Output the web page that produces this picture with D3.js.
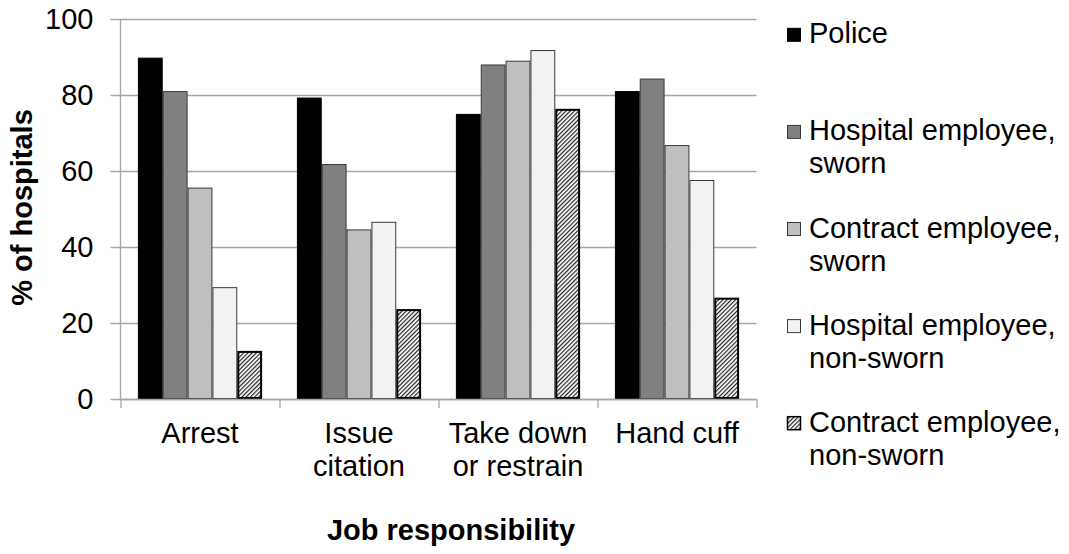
<!DOCTYPE html>
<html>
<head>
<meta charset="utf-8">
<script src="https://cdn.jsdelivr.net/npm/d3@7"></script>
<style>
  html, body { margin: 0; padding: 0; background: #fff; }
  svg { display: block; font-family: "Liberation Sans", Arial, sans-serif; }
</style>
</head>
<body>
<svg id="chart" width="1069" height="554"></svg>
<script>
// Job responsibilities by who performs them (% of hospitals)
const categories = ["Arrest", "Issue\ncitation", "Take down\nor restrain", "Hand cuff"];
const seriesNames = [
  "Police",
  "Hospital employee,\nsworn",
  "Contract employee,\nsworn",
  "Hospital employee,\nnon-sworn",
  "Contract employee,\nnon-sworn"
];
const police            = [89.7, 79.2, 74.9, 80.9];
const hospitalSworn     = [80.9, 61.7, 87.9, 84.2];
const contractSworn     = [55.5, 44.5, 88.9, 66.7];
const hospitalNonSworn  = [29.3, 46.5, 91.7, 57.5];
const contractNonSworn  = [12.4, 23.4, 76.1, 26.4];
const yTicks = [0, 20, 40, 60, 80, 100];
const yTitle = "% of hospitals";
const xTitle = "Job responsibility";

const seriesValues = [police, hospitalSworn, contractSworn, hospitalNonSworn, contractNonSworn];

const svg = d3.select("#chart");
const FONT = 29;
const GRID = "#a6a6a6";

// hatch fill for the last series
const defs = svg.append("defs");
const pat = defs.append("pattern")
  .attr("id", "hatch")
  .attr("patternUnits", "userSpaceOnUse")
  .attr("width", 3).attr("height", 3)
  .attr("patternTransform", "rotate(45)");
pat.append("rect").attr("width", 3).attr("height", 3).attr("fill", "#fff");
pat.append("line").attr("x1", 0.6).attr("y1", 0).attr("x2", 0.6).attr("y2", 3)
  .attr("stroke", "#222").attr("stroke-width", 1.2);

const fills   = ["#000000", "#808080", "#bfbfbf", "#f2f2f2", "url(#hatch)"];
const strokes = ["#000000", "#3a3a3a", "#3a3a3a", "#3a3a3a", "#000000"];
const strokeW = [1, 1, 1, 1, 2];

const plot = { left: 120.5, right: 756.5, top: 19, bottom: 399 };

const x0 = d3.scaleBand().domain(categories).range([plot.left, plot.right]).padding(0);
// Excel-style gap: 1.4 bar widths split across both sides of a group
const barW = x0.bandwidth() / (seriesNames.length + 1.4);
const x1 = d3.scaleBand().domain(d3.range(seriesNames.length))
  .range([barW * 0.7, x0.bandwidth() - barW * 0.7]).padding(0);
const y = d3.scaleLinear().domain([0, 100]).range([plot.bottom, plot.top]);

// gridlines + y axis
const yAxis = d3.axisLeft(y).tickValues(yTicks).tickSize(-(plot.right - plot.left)).tickPadding(0).tickFormat(d3.format("d"));
const gy = svg.append("g").attr("transform", `translate(${plot.left},0)`).call(yAxis);
gy.select(".domain").remove();
gy.selectAll(".tick line").attr("stroke", GRID).attr("stroke-width", 1.3).attr("x1", -10);
gy.selectAll(".tick text")
  .attr("x", -27).attr("dy", "0.34em")
  .attr("font-size", FONT).attr("font-family", "Liberation Sans, Arial, sans-serif")
  .attr("fill", "#000");
svg.append("line")
  .attr("x1", plot.left).attr("x2", plot.left)
  .attr("y1", plot.top).attr("y2", plot.bottom + 1)
  .attr("stroke", GRID).attr("stroke-width", 1.3);

// bars
const groups = svg.append("g").selectAll("g")
  .data(categories).join("g")
  .attr("transform", d => `translate(${x0(d)},0)`);
groups.selectAll("rect")
  .data((c, ci) => seriesValues.map((vals, si) => ({ si, v: vals[ci] })))
  .join("rect")
  .attr("x", d => x1(d.si) + (d.si === 4 ? 1 : 0.5))
  .attr("width", d => x1.bandwidth() - (d.si === 4 ? 2 : 1))
  .attr("y", d => y(d.v))
  .attr("height", d => y(0) - y(d.v) - (d.si === 4 ? 1 : 0.5))
  .attr("fill", d => fills[d.si])
  .attr("stroke", d => strokes[d.si])
  .attr("stroke-width", d => strokeW[d.si]);

// x axis line with boundary ticks
const xAxisScale = d3.scaleLinear().domain([0, categories.length]).range([plot.left, plot.right]);
const xAxis = d3.axisBottom(xAxisScale).ticks(categories.length).tickSize(9).tickFormat("");
const gx = svg.append("g").attr("transform", `translate(0,${plot.bottom})`).call(xAxis);
gx.select(".domain").attr("stroke", GRID).attr("stroke-width", 1.3).attr("d", `M${plot.left},0.5H${plot.right}`);
gx.selectAll(".tick line").attr("stroke", GRID).attr("stroke-width", 1.3);

// category labels
const lab = svg.append("g").selectAll("text").data(categories).join("text")
  .attr("text-anchor", "middle")
  .attr("font-size", FONT)
  .attr("fill", "#000")
  .attr("transform", d => `translate(${x0(d) + x0.bandwidth() / 2},443)`);
lab.selectAll("tspan").data(d => d.split("\n")).join("tspan")
  .attr("x", 0).attr("y", (d, i) => i * 33).text(d => d);

// axis titles
svg.append("text")
  .attr("x", 451).attr("y", 540)
  .attr("text-anchor", "middle").attr("font-size", FONT).attr("font-weight", "bold")
  .text(xTitle);
svg.append("text")
  .attr("transform", "translate(31.5,207.5) rotate(-90)")
  .attr("text-anchor", "middle").attr("font-size", FONT).attr("font-weight", "bold")
  .text(yTitle);

// legend
const legend = svg.append("g").selectAll("g").data(seriesNames).join("g")
  .attr("transform", (d, i) => `translate(787,${43.3 + i * 97.1})`);
legend.append("rect")
  .attr("x", 0.5).attr("y", -15).attr("width", 13).attr("height", 13)
  .attr("fill", (d, i) => fills[i])
  .attr("stroke", (d, i) => i === 0 ? "#000" : (i === 4 ? "#000" : "#3a3a3a"))
  .attr("stroke-width", (d, i) => i === 4 ? 1.5 : 1);
const lt = legend.append("text").attr("font-size", FONT).attr("fill", "#000");
lt.selectAll("tspan").data(d => d.split("\n")).join("tspan")
  .attr("x", 22).attr("y", (d, i) => i * 33).text(d => d);
</script>
</body>
</html>
